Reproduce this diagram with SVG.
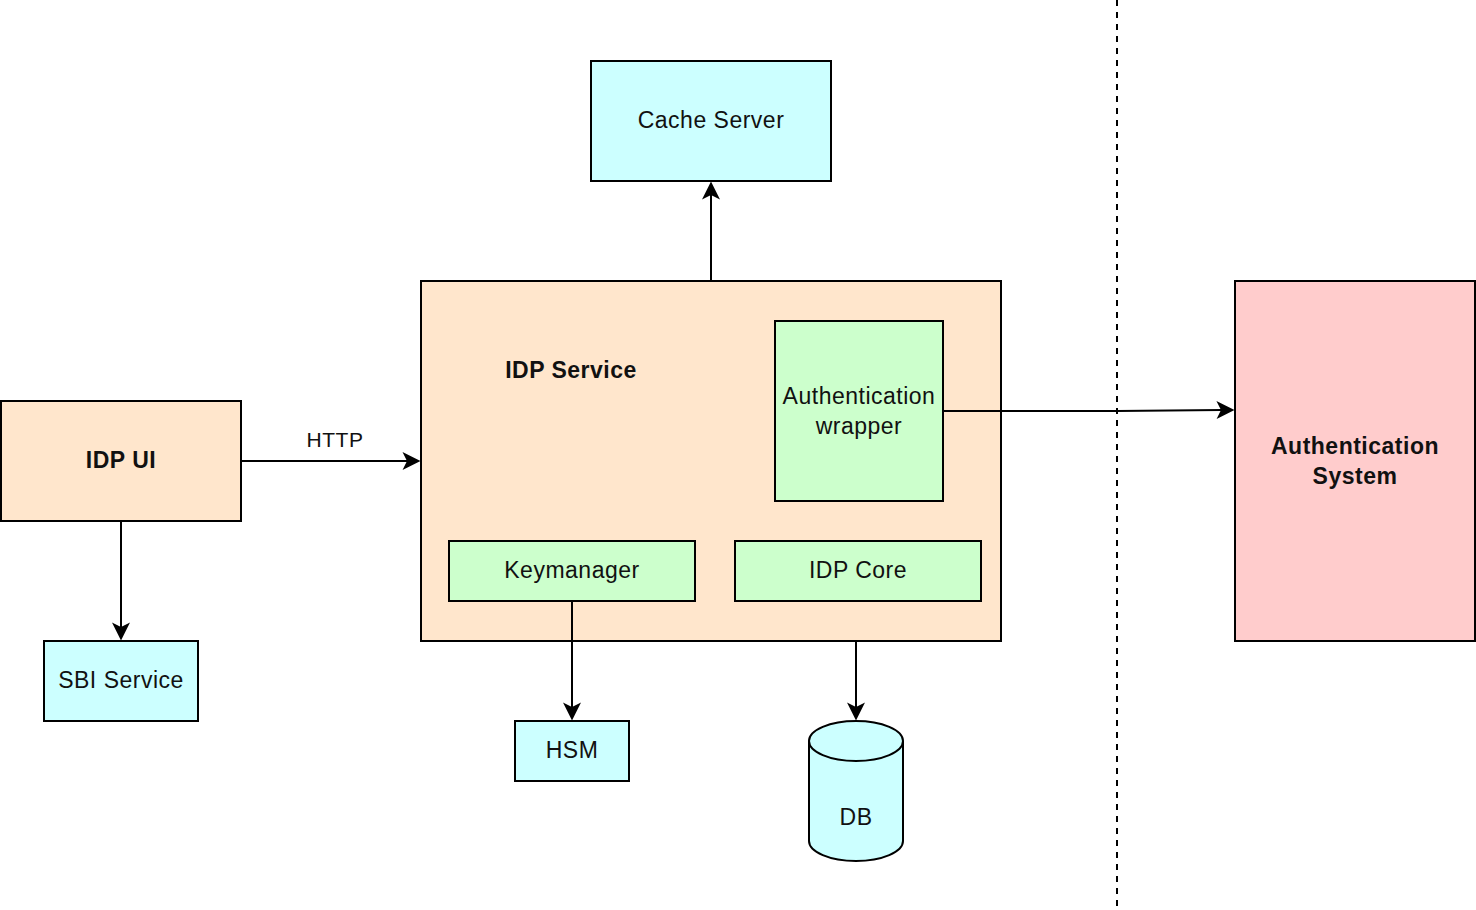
<svg xmlns="http://www.w3.org/2000/svg" width="1476" height="910" viewBox="0 0 1476 910">
<style>
.box{stroke:#000;stroke-width:2}
.t{font-family:"Liberation Sans",Arial,sans-serif;font-size:23px;fill:#111;text-anchor:middle;letter-spacing:0.5px}
.b{font-weight:bold}
.cn{fill:none;stroke:#000;stroke-width:2}
</style>
<defs>
<marker id="arr" viewBox="-19 -10 20 20" markerWidth="20" markerHeight="20" refX="-13" refY="0" orient="auto" markerUnits="userSpaceOnUse">
<path d="M0,0 L-18,-9 L-13.5,0 L-18,9 Z" fill="#000"/>
</marker>
</defs>
<rect width="1476" height="910" fill="#fff"/>
<line x1="1117" y1="0" x2="1117" y2="910" stroke="#000" stroke-width="2" stroke-dasharray="6 6"/>
<g id="cache-server">
<rect class="box" x="591" y="61" width="240" height="120" fill="#CCFFFF"/>
<text class="t" x="711" y="127.5">Cache Server</text>
</g>
<g id="idp-service">
<rect class="box" x="421" y="281" width="580" height="360" fill="#FFE6CC"/>
<text class="t b" x="571" y="377.5">IDP Service</text>
</g>
<g id="auth-wrapper">
<rect class="box" x="775" y="321" width="168" height="180" fill="#CCFFCC"/>
<text class="t" x="859" y="403.5">Authentication</text>
<text class="t" x="859" y="433.5">wrapper</text>
</g>
<g id="keymanager">
<rect class="box" x="449" y="541" width="246" height="60" fill="#CCFFCC"/>
<text class="t" x="572" y="577.5">Keymanager</text>
</g>
<g id="idp-core">
<rect class="box" x="735" y="541" width="246" height="60" fill="#CCFFCC"/>
<text class="t" x="858" y="577.5">IDP Core</text>
</g>
<g id="idp-ui">
<rect class="box" x="1" y="401" width="240" height="120" fill="#FFE6CC"/>
<text class="t b" x="121" y="467.5">IDP UI</text>
</g>
<g id="sbi-service">
<rect class="box" x="44" y="641" width="154" height="80" fill="#CCFFFF"/>
<text class="t" x="121" y="687.5">SBI Service</text>
</g>
<g id="hsm">
<rect class="box" x="515" y="721" width="114" height="60" fill="#CCFFFF"/>
<text class="t" x="572" y="757.5">HSM</text>
</g>
<g id="db">
<path class="box" d="M809,741 L809,841 A47,20 0 0 0 903,841 L903,741 A47,20 0 0 0 809,741 Z" fill="#CCFFFF"/>
<path class="box" d="M809,741 A47,20 0 0 0 903,741" fill="none"/>
<text class="t" x="856" y="825">DB</text>
</g>
<g id="auth-system">
<rect class="box" x="1235" y="281" width="240" height="360" fill="#FFCCCC"/>
<text class="t b" x="1355" y="454">Authentication</text>
<text class="t b" x="1355" y="484">System</text>
</g>
<g id="connectors">
<line class="cn" x1="241" y1="461" x2="407.5" y2="461" marker-end="url(#arr)"/>
<text class="t" style="font-size:21px" x="335" y="447">HTTP</text>
<line class="cn" x1="711" y1="281" x2="711" y2="194.5" marker-end="url(#arr)"/>
<line class="cn" x1="121" y1="521" x2="121" y2="627.5" marker-end="url(#arr)"/>
<line class="cn" x1="572" y1="601" x2="572" y2="707.5" marker-end="url(#arr)"/>
<line class="cn" x1="856" y1="641" x2="856" y2="707.5" marker-end="url(#arr)"/>
<path class="cn" d="M943,411 L1117,411 L1221.5,410" marker-end="url(#arr)"/>
</g>
</svg>
